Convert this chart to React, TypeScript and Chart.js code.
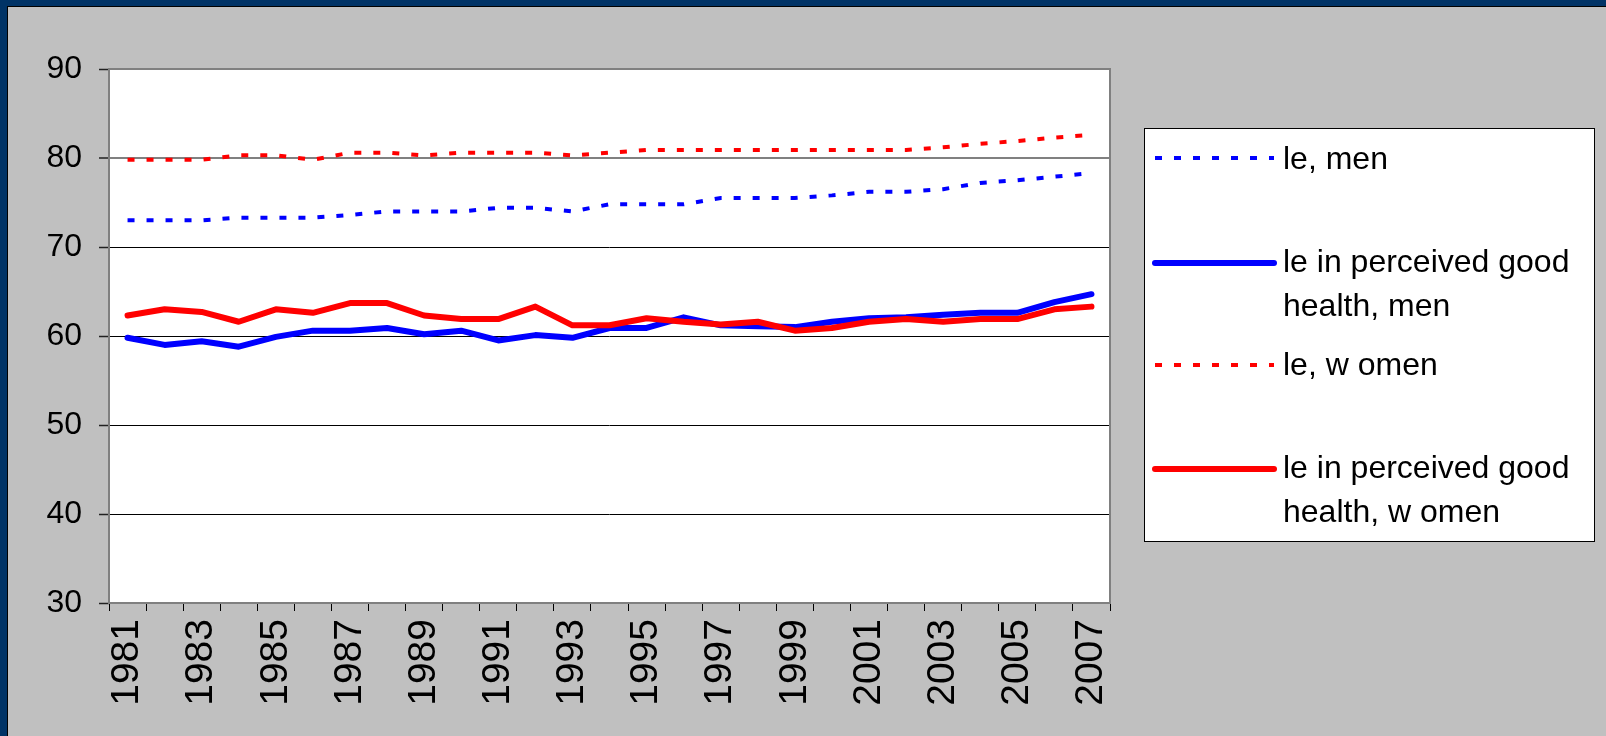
import React, { useEffect, useRef } from 'react';
import { Chart, registerables } from 'chart.js';

Chart.register(...registerables);

const years = ['1981','1982','1983','1984','1985','1986','1987','1988','1989','1990','1991','1992','1993','1994','1995','1996','1997','1998','1999','2000','2001','2002','2003','2004','2005','2006','2007'];

const leMen = [73.0, 73.0, 73.0, 73.3, 73.3, 73.3, 73.6, 74.0, 74.0, 74.0, 74.4, 74.4, 74.0, 74.8, 74.8, 74.8, 75.5, 75.5, 75.5, 75.8, 76.2, 76.2, 76.5, 77.2, 77.5, 77.9, 78.3];
const leGoodMen = [59.8, 59.0, 59.4, 58.8, 59.9, 60.6, 60.6, 60.9, 60.2, 60.6, 59.5, 60.1, 59.8, 60.9, 60.9, 62.1, 61.2, 61.1, 61.0, 61.6, 62.0, 62.1, 62.4, 62.6, 62.6, 63.8, 64.7];
const leWomen = [79.8, 79.8, 79.8, 80.3, 80.3, 79.8, 80.6, 80.6, 80.3, 80.6, 80.6, 80.6, 80.3, 80.6, 80.9, 80.9, 80.9, 80.9, 80.9, 80.9, 80.9, 80.9, 81.2, 81.6, 81.9, 82.3, 82.6];
const leGoodWomen = [62.3, 63.0, 62.7, 61.6, 63.0, 62.6, 63.7, 63.7, 62.3, 61.9, 61.9, 63.3, 61.2, 61.2, 62.0, 61.6, 61.3, 61.6, 60.6, 60.9, 61.6, 61.9, 61.6, 61.9, 61.9, 63.0, 63.3];

const seriesLabels = [
  ['le, men'],
  ['le in perceived good', 'health, men'],
  ['le, w omen'],
  ['le in perceived good', 'health, w omen'],
];

const yMin = 30;
const yMax = 90;
const yStep = 10;

const FONT = "'Liberation Sans', Arial, sans-serif";

const framePlugin = {
  id: 'frame',
  beforeDraw(chart: any) {
    const { ctx, chartArea: a } = chart;
    ctx.save();
    ctx.fillStyle = '#FFFFFF';
    ctx.fillRect(a.left, a.top, a.right - a.left, a.bottom - a.top);
    ctx.restore();
  },
  beforeDatasetsDraw(chart: any) {
    const { ctx, chartArea: a } = chart;
    ctx.save();
    ctx.strokeStyle = '#808080';
    ctx.lineWidth = 2;
    ctx.strokeRect(a.left, a.top, a.right - a.left, a.bottom - a.top);
    ctx.restore();
  },
};

const legendPlugin = {
  id: 'customLegend',
  afterDraw(chart: any) {
    const { ctx } = chart;
    const box = { x: 1136, y: 121, w: 450, h: 413 };
    const entries = [
      { lineY: 151, baselines: [162] },
      { lineY: 256, baselines: [265, 309] },
      { lineY: 358, baselines: [368] },
      { lineY: 462, baselines: [471, 515] },
    ];
    ctx.save();
    ctx.fillStyle = '#FFFFFF';
    ctx.fillRect(box.x, box.y, box.w, box.h);
    ctx.strokeStyle = '#000000';
    ctx.lineWidth = 1;
    ctx.strokeRect(box.x + 0.5, box.y + 0.5, box.w, box.h);
    chart.data.datasets.forEach((ds: any, i: number) => {
      const e = entries[i];
      ctx.save();
      ctx.strokeStyle = ds.borderColor;
      ctx.lineWidth = ds.borderWidth;
      ctx.lineCap = ds.borderDash && ds.borderDash.length ? 'butt' : 'round';
      ctx.setLineDash(ds.borderDash || []);
      ctx.beginPath();
      ctx.moveTo(1147, e.lineY);
      ctx.lineTo(1266, e.lineY);
      ctx.stroke();
      ctx.restore();
      ctx.fillStyle = '#000000';
      ctx.font = `32px ${FONT}`;
      ctx.textAlign = 'left';
      ctx.textBaseline = 'alphabetic';
      seriesLabels[i].forEach((t, j) => ctx.fillText(t, 1275, e.baselines[j]));
    });
    ctx.restore();
  },
};

export default function App() {
  const ref = useRef<HTMLCanvasElement>(null);
  useEffect(() => {
    if (!ref.current) return;
    const chart = new Chart(ref.current, {
      type: 'line',
      data: {
        labels: years,
        datasets: [
          { label: seriesLabels[0].join(' '), data: leMen, borderColor: '#0000FF', borderWidth: 4, borderDash: [7, 12], borderCapStyle: 'butt', pointRadius: 0, fill: false, order: 3 },
          { label: seriesLabels[1].join(' '), data: leGoodMen, borderColor: '#0000FF', borderWidth: 6, borderCapStyle: 'round', borderJoinStyle: 'round', pointRadius: 0, fill: false, order: 1 },
          { label: seriesLabels[2].join(' '), data: leWomen, borderColor: '#FF0000', borderWidth: 4, borderDash: [7, 12], borderCapStyle: 'butt', pointRadius: 0, fill: false, order: 2 },
          { label: seriesLabels[3].join(' '), data: leGoodWomen, borderColor: '#FF0000', borderWidth: 6, borderCapStyle: 'round', borderJoinStyle: 'round', pointRadius: 0, fill: false, order: 0 },
        ] as any,
      },
      options: {
        animation: false,
        responsive: false,
        devicePixelRatio: 1,
        layout: { padding: { left: 0, top: 62, right: 496, bottom: 0 } },
        plugins: { legend: { display: false }, tooltip: { enabled: false } },
        elements: { line: { tension: 0 }, point: { radius: 0 } },
        scales: {
          x: {
            type: 'category',
            offset: true,
            grid: { display: true, drawOnChartArea: false, drawTicks: true, tickLength: 8, tickColor: '#000000', tickWidth: 1, offset: true },
            border: { display: false },
            ticks: {
              autoSkip: false,
              minRotation: 90,
              maxRotation: 90,
              padding: 8,
              color: '#000000',
              font: { family: FONT, size: 39 },
              callback: (_v: any, i: number) => (i % 2 === 0 ? years[i] : ''),
            },
            afterFit: (s: any) => { s.height = 133; },
          },
          y: {
            min: yMin,
            max: yMax,
            ticks: { stepSize: yStep, padding: 17, color: '#000000', font: { family: FONT, size: 32 } },
            grid: {
              color: (c: any) => (c.tick && c.tick.value === 80 ? '#808080' : '#000000'),
              lineWidth: (c: any) => (c.tick && c.tick.value === 80 ? 2 : 1),
              tickLength: 10,
              tickColor: '#222222',
              tickWidth: 1.5,
            },
            border: { display: false },
            afterFit: (s: any) => { s.width = 101; },
          },
        },
      } as any,
      plugins: [framePlugin, legendPlugin],
    });
    return () => chart.destroy();
  }, []);

  return (
    <div style={{ position: 'fixed', left: 0, top: 0, width: 1606, height: 736, background: '#003366', overflow: 'hidden' }}>
      <div style={{ position: 'absolute', left: 7, top: 6, right: 0, bottom: 0, background: '#000000' }} />
      <div style={{ position: 'absolute', left: 8, top: 7, right: 0, bottom: 0, background: '#C0C0C0' }} />
      <canvas ref={ref} width={1598} height={729} style={{ position: 'absolute', left: 8, top: 7, width: 1598, height: 729 }} />
    </div>
  );
}
